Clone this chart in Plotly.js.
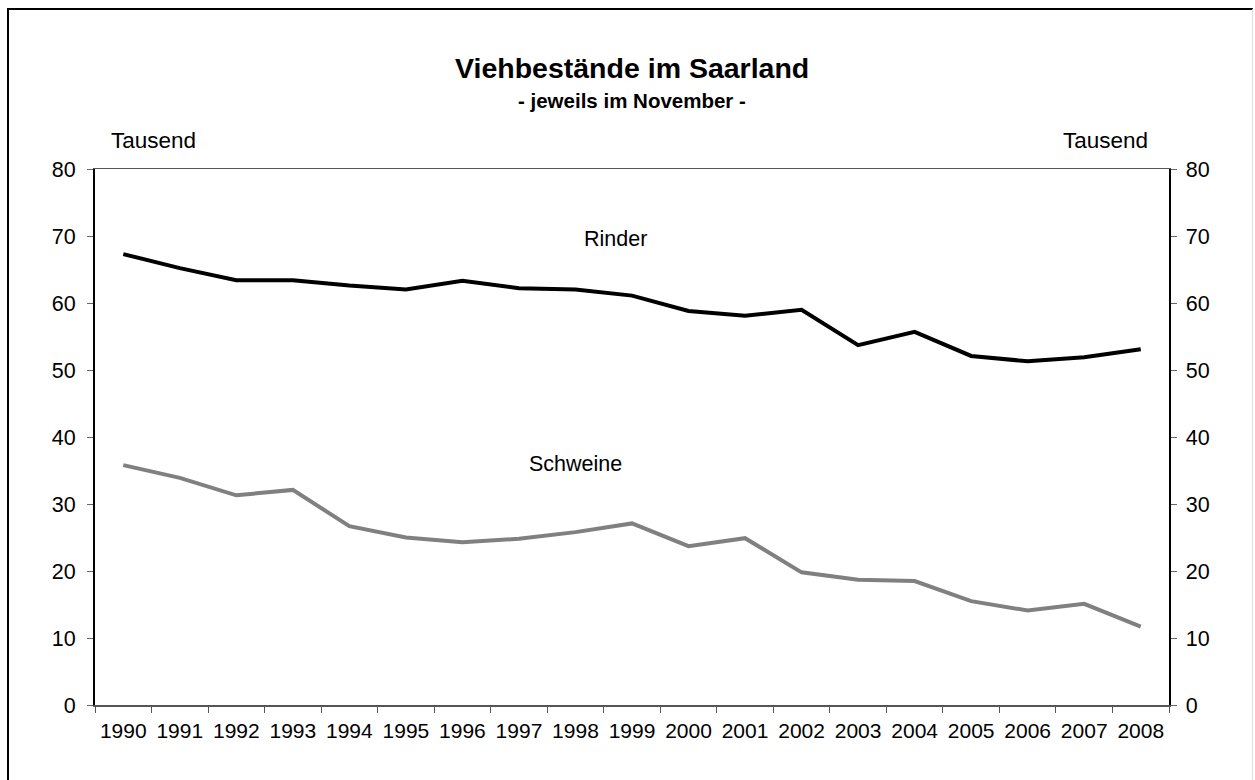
<!DOCTYPE html>
<html>
<head>
<meta charset="utf-8">
<script src="https://cdn.plot.ly/plotly-3.0.1.min.js"></script>
<style>
  html, body { margin: 0; padding: 0; background: #fff; }
  #wrap { position: relative; width: 1255px; height: 780px; overflow: hidden; }
  #chart { position: absolute; left: 0; top: 0; width: 1255px; height: 780px; }
  #frame { position: absolute; left: 7px; top: 8px; width: 1243px; height: 800px;
           border-left: 2px solid #000; border-top: 2px solid #000; border-right: 1px solid #e0e0e0;
           pointer-events: none; }
</style>
</head>
<body>
<div id="wrap">
  <div id="chart"></div>
  <div id="frame"></div>
</div>
<script>
const years = ["1990","1991","1992","1993","1994","1995","1996","1997","1998","1999",
               "2000","2001","2002","2003","2004","2005","2006","2007","2008"];
const rinder = [67.3, 65.2, 63.4, 63.4, 62.6, 62.0, 63.3, 62.2, 62.0, 61.1,
                58.8, 58.1, 59.0, 53.7, 55.7, 52.1, 51.3, 51.9, 53.1];
const schweine = [35.8, 33.9, 31.3, 32.1, 26.7, 25.0, 24.3, 24.8, 25.8, 27.1,
                  23.7, 24.9, 19.8, 18.7, 18.5, 15.5, 14.1, 15.1, 11.7];
const yTicks = [0, 10, 20, 30, 40, 50, 60, 70, 80];

const FONT = "Liberation Sans, Arial, sans-serif";

const traces = [
  { x: years, y: rinder, type: "scatter", mode: "lines", name: "Rinder",
    line: { color: "#000000", width: 4 }, yaxis: "y", hoverinfo: "x+y" },
  { x: years, y: schweine, type: "scatter", mode: "lines", name: "Schweine",
    line: { color: "#808080", width: 4 }, yaxis: "y2", hoverinfo: "x+y" }
];

const yCommon = {
  range: [0, 80], tickvals: yTicks, ticktext: yTicks.map(String),
  showgrid: false, zeroline: false, showline: true,
  ticks: "outside", ticklen: 6, tickcolor: "#666", tickwidth: 1,
  tickfont: { family: FONT, size: 21.5, color: "#000" }
};

const layout = {
  width: 1255, height: 780,
  margin: { l: 95, r: 86, t: 169, b: 75, pad: 0 },
  paper_bgcolor: "#ffffff", plot_bgcolor: "#ffffff",
  showlegend: false,
  font: { family: FONT, color: "#000" },
  xaxis: {
    type: "category", tickson: "boundaries",
    range: [-0.5, years.length - 0.5], autorange: false,
    showgrid: false, zeroline: false, showline: true, mirror: true,
    linecolor: "#555", linewidth: 1.5,
    ticks: "outside", ticklen: 6, tickcolor: "#555", tickwidth: 1,
    ticklabelstandoff: 6,
    tickfont: { family: FONT, size: 21, color: "#000" }
  },
  yaxis: Object.assign({}, yCommon, { side: "left", linecolor: "#000", linewidth: 2, ticklabelstandoff: 7 }),
  yaxis2: Object.assign({}, yCommon, { side: "right", overlaying: "y", linecolor: "#000", linewidth: 1.5, ticklabelstandoff: 5 }),
  annotations: [
    { text: "<b>Viehbestände im Saarland</b>", xref: "paper", yref: "paper",
      x: 0.5, y: 1, yshift: 101, showarrow: false, xanchor: "center", yanchor: "middle",
      font: { family: FONT, size: 28.5, color: "#000" } },
    { text: "<b>- jeweils im November -</b>", xref: "paper", yref: "paper",
      x: 0.5, y: 1, yshift: 69, showarrow: false, xanchor: "center", yanchor: "middle",
      font: { family: FONT, size: 20.5, color: "#000" } },
    { text: "Tausend", xref: "paper", yref: "paper",
      x: 0, xshift: 58, y: 1, yshift: 29, showarrow: false, xanchor: "center", yanchor: "middle",
      font: { family: FONT, size: 22.5, color: "#000" } },
    { text: "Tausend", xref: "paper", yref: "paper",
      x: 1, xshift: -64, y: 1, yshift: 29, showarrow: false, xanchor: "center", yanchor: "middle",
      font: { family: FONT, size: 22.5, color: "#000" } },
    { text: "Rinder", xref: "paper", yref: "y",
      x: 0.485, y: 69.5, showarrow: false, xanchor: "center", yanchor: "middle",
      font: { family: FONT, size: 21.5, color: "#000" } },
    { text: "Schweine", xref: "paper", yref: "y",
      x: 0.447, y: 35.9, showarrow: false, xanchor: "center", yanchor: "middle",
      font: { family: FONT, size: 21.5, color: "#000" } }
  ]
};

Plotly.newPlot("chart", traces, layout, { displayModeBar: false, staticPlot: true });
</script>
</body>
</html>
